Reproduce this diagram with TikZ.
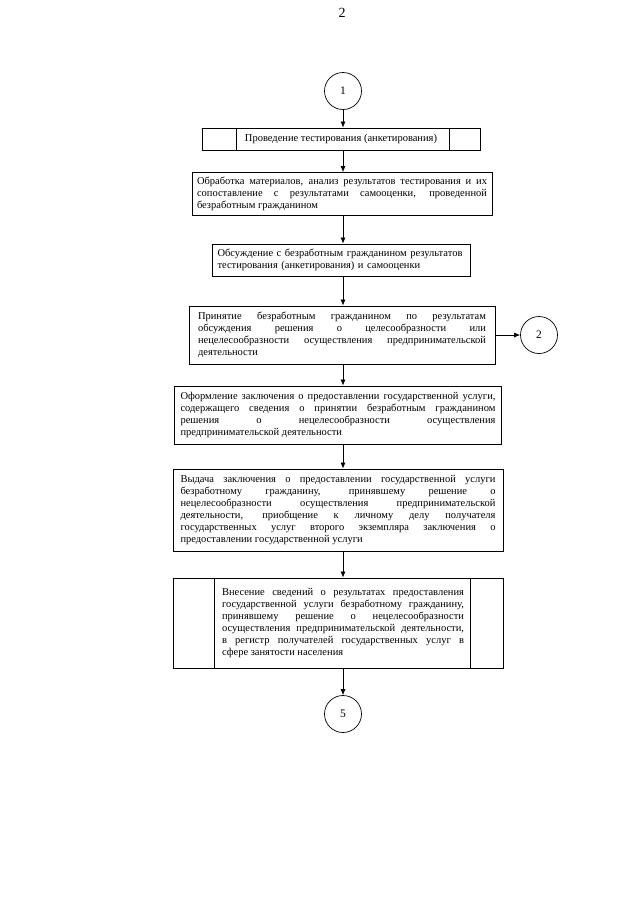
\documentclass[tikz,border=0pt]{standalone}
\usepackage{fontspec}
\setmainfont{Liberation Serif}
\usetikzlibrary{arrows.meta,positioning}

\begin{document}
\begin{tikzpicture}[x=1pt,y=-1pt,
  stepbox/.style={draw, line width=0.8pt, inner ysep=0pt, font=\fontsize{10.5}{12}\selectfont},
  jump/.style={draw, circle, line width=0.7pt, minimum size=37pt, inner sep=0pt, font=\fontsize{11.5}{13}\selectfont},
  flow/.style={line width=0.7pt, -{Latex[length=6pt,width=5pt]}}]
\useasboundingbox (0,0) rectangle (640,905);
% page number
\node[font=\fontsize{14}{16}\selectfont] (pagenum) at (342,13) {2};
% start
\node[jump] (c1) at (343,91) {1};
% testing
\node[stepbox, minimum width=278, minimum height=22] (b1) at (341,139) {Проведение тестирования (анкетирования)};
\draw[line width=0.8pt] ([xshift=35pt]b1.north west) -- ([xshift=35pt]b1.south west);
\draw[line width=0.8pt] ([xshift=-31pt]b1.north east) -- ([xshift=-31pt]b1.south east);
% processing
\node[stepbox, minimum width=300, minimum height=43, text width=290, inner xsep=5, align=justify] (b2) at (342,194)
  {Обработка материалов,  анализ результатов тестирования и их\linebreak сопоставление с результатами самооценки, проведенной\linebreak безработным гражданином};
% discussion
\node[stepbox, minimum width=258, minimum height=32, text width=251, inner xsep=3.5, align=left] (b3) at (341,260)
  {\hspace*{2pt}Обсуждение с безработным гражданином результатов\\ \hspace*{2pt}тестирования (анкетирования) и самооценки};
% decision
\node[stepbox, minimum width=306, minimum height=58, text width=288, inner xsep=9, align=justify] (b4) at (342,335)
  {Принятие безработным гражданином по результатам\linebreak обсуждения решения о целесообразности или\linebreak нецелесообразности осуществления предпринимательской\linebreak деятельности};
\node[jump] (c2) at (539,335) {2};
% conclusion
\node[stepbox, minimum width=327, minimum height=58, text width=315, inner xsep=6, align=justify] (b5) at (338,415)
  {Оформление заключения о предоставлении государственной услуги,\linebreak содержащего сведения о принятии безработным гражданином\linebreak решения о нецелесообразности осуществления\linebreak предпринимательской деятельности};
% issue
\node[stepbox, minimum width=330, minimum height=82, text width=315, inner xsep=7.5, align=justify] (b6) at (338,510)
  {Выдача заключения о предоставлении государственной услуги\linebreak безработному гражданину, принявшему решение о\linebreak нецелесообразности осуществления предпринимательской\linebreak деятельности, приобщение к личному делу получателя\linebreak государственных услуг второго экземпляра заключения о\linebreak предоставлении государственной услуги};
% register
\node[stepbox, minimum width=330, minimum height=90] (b7) at (338,623) {};
\node[font=\fontsize{10.5}{12}\selectfont, text width=242, align=justify] (b7txt) at (343,623)
  {Внесение сведений о результатах предоставления\linebreak государственной услуги безработному гражданину,\linebreak принявшему решение о нецелесообразности\linebreak осуществления предпринимательской деятельности,\linebreak в регистр получателей государственных услуг в\linebreak сфере занятости населения};
\draw[line width=0.8pt] ([xshift=42pt]b7.north west) -- ([xshift=42pt]b7.south west);
\draw[line width=0.8pt] ([xshift=-33pt]b7.north east) -- ([xshift=-33pt]b7.south east);
% end
\node[jump] (c5) at (343,714) {5};
% arrows
\draw[flow] (c1) -- (c1 |- b1.north);
\draw[flow] (b1.south -| c1) -- (b2.north -| c1);
\draw[flow] (b2.south -| c1) -- (b3.north -| c1);
\draw[flow] (b3.south -| c1) -- (b4.north -| c1);
\draw[flow] (b4) -- (c2);
\draw[flow] (b4.south -| c1) -- (b5.north -| c1);
\draw[flow] (b5.south -| c1) -- (b6.north -| c1);
\draw[flow] (b6.south -| c1) -- (b7.north -| c1);
\draw[flow] (b7.south -| c1) -- (c5);
\end{tikzpicture}
\end{document}
